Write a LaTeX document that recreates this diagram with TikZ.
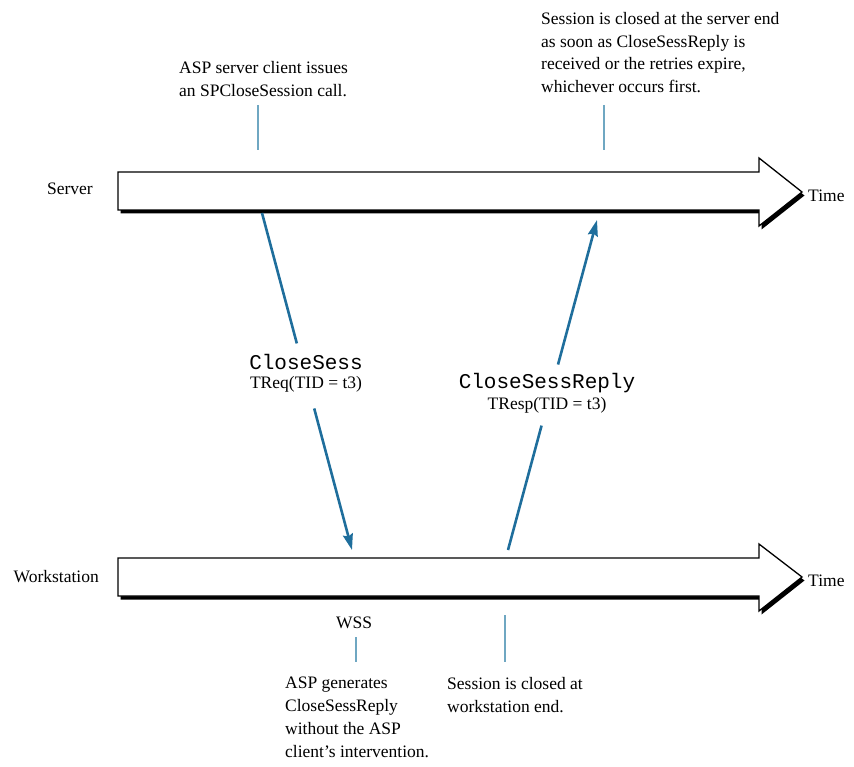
\documentclass[tikz,border=0pt]{standalone}
\usepackage{fontspec}
\setmainfont{Liberation Serif}
\newfontfamily\codefont{Liberation Mono}
\usetikzlibrary{arrows.meta,calc}

\definecolor{msgblue}{HTML}{1F6E9C}
\definecolor{tickblue}{HTML}{6FA7C2}

\tikzset{
  timebar/.style={fill=white,draw=black,line width=1.3pt,line join=miter},
  barshadow/.style={fill=black},
  note/.style={font=\fontsize{17.5}{22.8}\selectfont,align=left,inner sep=0pt},
  lbl/.style={font=\fontsize{17.5}{20}\selectfont,inner sep=0pt},
  code/.style={font=\codefont\fontsize{21}{24}\selectfont,inner sep=0pt},
  msg/.style={draw=msgblue,line width=2.6pt},
  msgtip/.style={msg,-{Stealth[length=16pt,width=10pt,inset=2pt]}},
  tick/.style={draw=tickblue,line width=2.2pt}
}

\begin{document}
\begin{tikzpicture}[x=1pt,y=-1pt]
\useasboundingbox (0,0) rectangle (854,767);

% time bars: shadow first, then the white outlined arrow
\foreach \yt/\yb/\ht/\hb/\tip in {172/210/158/226/192, 558/596/544/611/577}{
  \fill[barshadow] ($(118,\yt)+(2.5,3.5)$) -- ($(759,\yt)+(2.5,3.5)$) -- ($(759,\ht)+(2.5,3.5)$)
    -- ($(802,\tip)+(2.5,3.5)$) -- ($(759,\hb)+(2.5,3.5)$) -- ($(759,\yb)+(2.5,3.5)$)
    -- ($(118,\yb)+(2.5,3.5)$) -- cycle;
  \draw[timebar] (118,\yt) -- (759,\yt) -- (759,\ht) -- (802,\tip) -- (759,\hb)
    -- (759,\yb) -- (118,\yb) -- cycle;
}

% side labels
\node[lbl,anchor=east] (server) at (93,189) {Server};
\node[lbl,anchor=east] (work) at (99,577) {Workstation};
\node[lbl,anchor=west] (timeS) at (808,196) {Time};
\node[lbl,anchor=west] (timeW) at (808,581) {Time};

% annotations
\node[note,anchor=north west] (callnote) at (179,61)
  {ASP server client issues\\an SPCloseSession call.};
\node[note,anchor=north west] (closenote) at (541,12)
  {Session is closed at the server end\\as soon as CloseSessReply is\\received or the retries expire,\\whichever occurs first.};
\node[lbl] (wss) at (354,623) {WSS};
\node[note,anchor=north west] (gennote) at (285,677)
  {ASP generates\\CloseSessReply\\without the ASP\\client's intervention.};
\node[note,anchor=north west] (wsnote) at (447,677)
  {Session is closed at\\workstation end.};

% tick marks tying annotations to the time bars
\coordinate (callA) at (258,105); \coordinate (callB) at (258,150);
\coordinate (closeA) at (604,105); \coordinate (closeB) at (604,150);
\coordinate (wssA) at (356,637); \coordinate (wssB) at (356,662);
\coordinate (wsA) at (505,615); \coordinate (wsB) at (505,662);
\draw[tick] (callA) -- (callB);
\draw[tick] (closeA) -- (closeB);
\draw[tick] (wssA) -- (wssB);
\draw[tick] (wsA) -- (wsB);

% request: server -> workstation
\coordinate (reqS) at (262,213);
\coordinate (reqE) at (352,550);
\node[code] (reqName) at (306,362) {CloseSess};
\node[lbl] (reqTid) at (306,384) {TReq(TID = t3)};
\draw[msg] (reqS) -- ($(reqS)!0.387!(reqE)$);
\draw[msgtip] ($(reqS)!0.58!(reqE)$) -- (reqE);

% reply: workstation -> server
\coordinate (repS) at (508,550);
\coordinate (repE) at (597,220);
\node[code] (repName) at (547,383) {CloseSessReply};
\node[lbl] (repTid) at (547,405) {TResp(TID = t3)};
\draw[msg] (repS) -- ($(repS)!0.377!(repE)$);
\draw[msgtip] ($(repS)!0.562!(repE)$) -- (repE);
\end{tikzpicture}
\end{document}
